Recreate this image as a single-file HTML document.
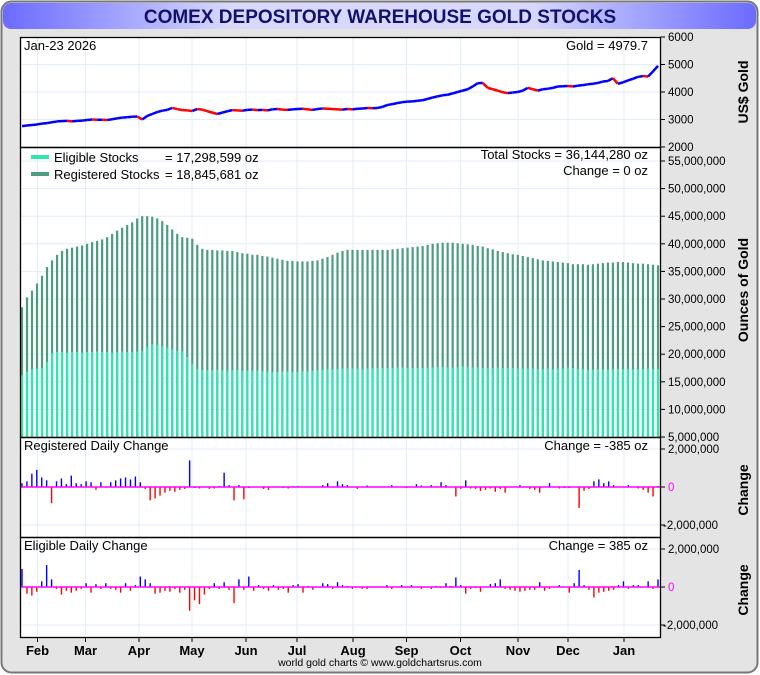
<!DOCTYPE html>
<html><head><meta charset="utf-8"><style>
html,body{margin:0;padding:0;background:#fff;}
svg{display:block;font-family:"Liberation Sans",sans-serif;}
</style></head><body>
<svg id="c" width="760" height="675" viewBox="0 0 760 675" xmlns="http://www.w3.org/2000/svg">
<defs>
<linearGradient id="tg" x1="0" x2="1" y1="0" y2="0">
<stop offset="0" stop-color="#6b6bff"/><stop offset="0.3" stop-color="#d8d8ff"/><stop offset="0.7" stop-color="#d8d8ff"/><stop offset="1" stop-color="#6b6bff"/>
</linearGradient>
</defs>
<rect x="1.5" y="1.5" width="756" height="671" rx="10" fill="#e4e4e4" stroke="#777" stroke-width="2"/>
<rect x="3" y="3" width="753" height="26" rx="8" fill="url(#tg)"/>
<text x="380" y="23" text-anchor="middle" font-size="19" font-weight="bold" fill="#12126e">COMEX DEPOSITORY WAREHOUSE GOLD STOCKS</text>
<rect x="20.5" y="37.5" width="640" height="600" fill="#fff"/>
<g id="grid"></g>
<g id="marks"></g>
<g id="frames"></g>
<g id="labels"></g>
</svg>
<script>
const months = ["Feb","Mar","Apr","May","Jun","Jul","Aug","Sep","Oct","Nov","Dec","Jan"];
const monthPos = [37.5,85.5,139,192,246,297,353,406.5,460.5,518,568,624];
const goldTicks = [6000,5000,4000,3000,2000];
const stockTicks = [55,50,45,40,35,30,25,20,15,10,5];
const changeTicks = [2000,0,-2000];
const gold = [2760,2780,2800,2820,2850,2870,2900,2930,2940,2950,2930,2950,2960,2980,3000,2990,2990,2980,3010,3040,3070,3080,3100,3110,3000,3130,3200,3270,3320,3350,3420,3380,3340,3330,3310,3380,3360,3300,3250,3200,3250,3300,3340,3330,3320,3350,3360,3340,3350,3330,3370,3380,3360,3350,3370,3380,3390,3370,3350,3380,3400,3390,3380,3370,3360,3380,3370,3390,3400,3420,3410,3420,3460,3530,3560,3600,3630,3650,3660,3680,3700,3750,3800,3840,3880,3900,3950,4000,4050,4100,4200,4320,4330,4150,4100,4050,3990,3960,3980,4000,4050,4150,4100,4050,4100,4120,4150,4200,4210,4220,4200,4230,4250,4280,4300,4330,4380,4400,4500,4300,4350,4420,4480,4550,4580,4560,4750,4950];
const total = [28.5,30.3,31.5,32.8,34.2,35.8,37,38,38.7,39.1,39.3,39.5,39.7,40,40.3,40.5,40.8,41.2,41.8,42.4,42.9,43.4,43.9,44.6,45,45,44.9,44.6,44.1,43.4,42.6,41.8,41.2,41.1,40.9,39.8,39.1,38.9,38.9,38.8,38.8,38.7,38.7,38.5,38.3,38.2,38,38,37.8,37.7,37.5,37.3,37.1,36.9,36.9,36.8,36.8,36.8,36.9,37,37.3,37.6,38,38.4,38.7,38.9,38.9,38.9,38.9,38.9,38.9,38.9,38.9,38.9,39,39.1,39.2,39.3,39.4,39.5,39.6,39.8,40,40.1,40.2,40.2,40.2,40.1,40,39.9,39.8,39.6,39.5,39.2,39,38.7,38.5,38.3,38.1,38,37.8,37.6,37.4,37.2,37,36.9,36.8,36.7,36.6,36.5,36.3,36.3,36.3,36.2,36.3,36.4,36.5,36.6,36.6,36.7,36.7,36.6,36.5,36.4,36.4,36.3,36.2,36.1];
const eligible = [16.2,16.8,17.3,17.4,17.5,18.6,20.2,20.4,20.4,20.3,20.4,20.4,20.3,20.4,20.4,20.5,20.4,20.4,20.3,20.4,20.5,20.4,20.4,20.5,20.6,21.3,21.8,21.7,21.5,21.2,20.9,20.6,20.5,19.5,18.3,17.3,17.2,17.1,17.1,17.2,17.1,17,17.1,17.1,17,17.1,17,17,16.9,16.9,16.8,16.8,16.9,16.9,16.8,16.8,16.9,16.9,17,17.1,17.2,17.3,17.3,17.3,17.4,17.4,17.4,17.4,17.3,17.4,17.4,17.5,17.5,17.5,17.5,17.6,17.6,17.5,17.5,17.5,17.5,17.6,17.6,17.7,17.7,17.6,17.6,17.6,17.8,17.7,17.6,17.6,17.5,17.5,17.5,17.6,17.5,17.5,17.5,17.4,17.4,17.4,17.4,17.3,17.3,17.4,17.3,17.4,17.4,17.6,17.5,17.3,17.3,17.2,17.2,17.3,17.2,17.2,17.3,17.3,17.3,17.3,17.3,17.3,17.3,17.4,17.3,17.3];
const regChange = [200,300,700,900,500,350,-850,300,450,150,600,200,150,300,250,-150,250,0,250,350,450,500,400,550,250,-100,-700,-600,-450,-300,-200,-250,-150,-100,1400,-50,-80,0,-100,-80,50,750,100,-700,100,-650,-50,0,0,-100,-150,0,0,-50,-80,50,50,0,0,0,0,100,200,0,300,150,100,0,-100,0,80,0,0,0,0,100,0,0,-50,0,150,80,0,100,0,250,100,0,-500,-100,350,-80,-100,-200,-150,-80,-250,-100,-300,0,0,100,0,-100,-150,-300,0,200,0,-80,-50,-50,0,-1100,-200,-100,300,400,200,300,100,0,0,100,0,-80,-150,-300,-500,50];
const eligChange = [950,-350,-450,-250,300,1150,400,-100,-400,-200,-300,-200,-100,200,-300,150,-100,200,-100,-150,-300,200,-200,100,550,400,200,-350,-300,-200,-250,-100,-300,-150,-1250,-700,-900,-400,-100,200,-100,250,-150,-850,400,-150,550,-200,100,-100,-200,100,-150,-100,-300,100,150,-300,50,-150,0,200,150,-100,250,100,50,-100,0,-100,-100,0,0,0,100,-100,0,100,0,100,0,-100,0,-100,50,-50,200,50,500,100,-350,-100,-50,-250,0,150,200,400,-100,-150,-200,-250,-200,-150,-150,250,-200,-100,0,100,0,-300,200,900,100,-150,-550,-300,-250,-200,-150,100,300,-100,100,100,0,300,-100,400];

const NS='http://www.w3.org/2000/svg';
function mk(parent,tag,attrs){const e=document.createElementNS(NS,tag);for(const k in attrs)e.setAttribute(k,attrs[k]);document.getElementById(parent).appendChild(e);return e;}
const X0=22,X1=658;
function xAt(i,n){return X0+i*(X1-X0)/(n-1);}
const yGold=v=>37+(6000-v)*110/4000;
const yStock=v=>437-(v-5)*5.52;
const yReg=v=>487-v*0.019;
const yElig=v=>587-v*0.019;

monthPos.forEach((x,i)=>{const l=mk('grid','line',{x1:x,x2:x,y1:37,y2:637,stroke:'#e0eef8','stroke-width':1});

});
goldTicks.forEach(v=>{const l=mk('grid','line',{x1:20,x2:660,y1:yGold(v),y2:yGold(v),stroke:'#e0eef8'});

});
stockTicks.forEach(v=>{const l=mk('grid','line',{x1:20,x2:660,y1:yStock(v),y2:yStock(v),stroke:'#e0eef8'});

});
[yReg(2000),yReg(-2000),yElig(2000),yElig(-2000)].forEach(y=>{const l=mk('grid','line',{x1:20,x2:660,y1:y,y2:y,stroke:'#e0eef8'});

});

total.forEach((v,i)=>{const x=xAt(i,total.length);
const r=mk('marks','rect',{x:x-1.1,y:yStock(v),width:2.2,height:437-yStock(v),fill:'#4c9d80'});

});
eligible.forEach((v,i)=>{const x=xAt(i,eligible.length);
const r=mk('marks','rect',{x:x-1.1,y:yStock(v),width:2.2,height:437-yStock(v),fill:'#2ee6b0'});

});
for(let i=1;i<gold.length;i++){const x0=xAt(i-1,gold.length),x1=xAt(i,gold.length);
const l=mk('marks','line',{x1:x0,y1:yGold(gold[i-1]),x2:x1,y2:yGold(gold[i]),stroke:(gold[i]>=gold[i-1]?'#0000ff':'#ff0000'),'stroke-width':2.5});

}
function changeBars(arr,yf,name){arr.forEach((v,i)=>{const x=xAt(i,arr.length);const y0=yf(0),y=yf(v);
const r=mk('marks','rect',{x:x-0.7,y:Math.min(y,y0),width:1.4,height:Math.abs(y-y0),fill:v>=0?'#0000ff':'#ff0000'});

});}
changeBars(regChange,yReg,'registered-change-bar');
changeBars(eligChange,yElig,'eligible-change-bar');
[yReg(0),yElig(0)].forEach(y=>{const l=mk('marks','line',{x1:20,x2:660,y1:y,y2:y,stroke:'#ff00ff','stroke-width':1.5});

});

[[37,147],[147,437],[437,537],[537,637]].forEach(p=>{const r=mk('frames','rect',{x:20.5,y:p[0]+0.5,width:640,height:p[1]-p[0],fill:'none',stroke:'#000','stroke-width':1.3});

});

function txt(x,y,s,attrs,name){const t=mk('labels','text',Object.assign({x:x,y:y,'font-size':13,fill:'#000'},attrs||{}));t.textContent=s;

return t;}
goldTicks.forEach(v=>{txt(668,yGold(v)+4,String(v),{'font-size':11.5},'gold-tick-label');const l=mk('labels','line',{x1:660,x2:665,y1:yGold(v),y2:yGold(v),stroke:'#000'});

});
stockTicks.forEach(v=>{txt(668,yStock(v)+4,(v*1000000).toLocaleString('en-US'),{'font-size':11.5},'stock-tick-label');const l=mk('labels','line',{x1:660,x2:665,y1:yStock(v),y2:yStock(v),stroke:'#000'});

});
[yReg,yElig].forEach(f=>changeTicks.forEach(v=>{const s=v===0?'0':(v<0?'-':'')+(Math.abs(v)*1000).toLocaleString('en-US');
txt(v<0?663:668,f(v)+4,s,{'font-size':11.5,fill:v===0?'#ff00ff':'#000'},'change-tick-label');
const l=mk('labels','line',{x1:660,x2:665,y1:f(v),y2:f(v),stroke:'#000'});

}));
months.forEach((m,i)=>{txt(monthPos[i],655,m,{'font-size':13,'font-weight':'bold','text-anchor':'middle'},'month-label');const l=mk('labels','line',{x1:monthPos[i],x2:monthPos[i],y1:637,y2:642,stroke:'#000'});

});
function vt(x,y,s,name){txt(x,y,s,{'font-size':14,'font-weight':'bold','text-anchor':'middle',transform:`rotate(-90 ${x} ${y})`},name);}
vt(748,92,'US$ Gold','gold-axis-title');
vt(748,290,'Ounces of Gold','stocks-axis-title');
vt(748,490,'Change','registered-change-axis-title');
vt(748,590,'Change','eligible-change-axis-title');
txt(24,50,'Jan-23  2026',{},'date-label');
txt(648,50,'Gold = 4979.7',{'text-anchor':'end'},'gold-value-label');
txt(648,159,'Total Stocks = 36,144,280 oz',{'text-anchor':'end'},'total-stocks-label');
txt(648,175,'Change = 0 oz',{'text-anchor':'end'},'total-change-label');
txt(24,450,'Registered Daily Change',{},'registered-change-title');
txt(648,450,'Change = -385 oz',{'text-anchor':'end'},'registered-change-value');
txt(24,550,'Eligible Daily Change',{},'eligible-change-title');
txt(648,550,'Change = 385 oz',{'text-anchor':'end'},'eligible-change-value');
const s1=mk('labels','rect',{x:31,y:155,width:18,height:4,fill:'#2ee6b0'});


const s2=mk('labels','rect',{x:31,y:172,width:18,height:4,fill:'#4c9d80'});


txt(54,162,'Eligible Stocks',{},'eligible-legend-label');
txt(165,162,'= 17,298,599 oz',{},'eligible-legend-value');
txt(54,179,'Registered Stocks',{},'registered-legend-label');
txt(165,179,'= 18,845,681 oz',{},'registered-legend-value');
txt(380,666,'world gold charts © www.goldchartsrus.com',{'font-size':10.5,'text-anchor':'middle'},'credit-text');
</script>
</body></html>
